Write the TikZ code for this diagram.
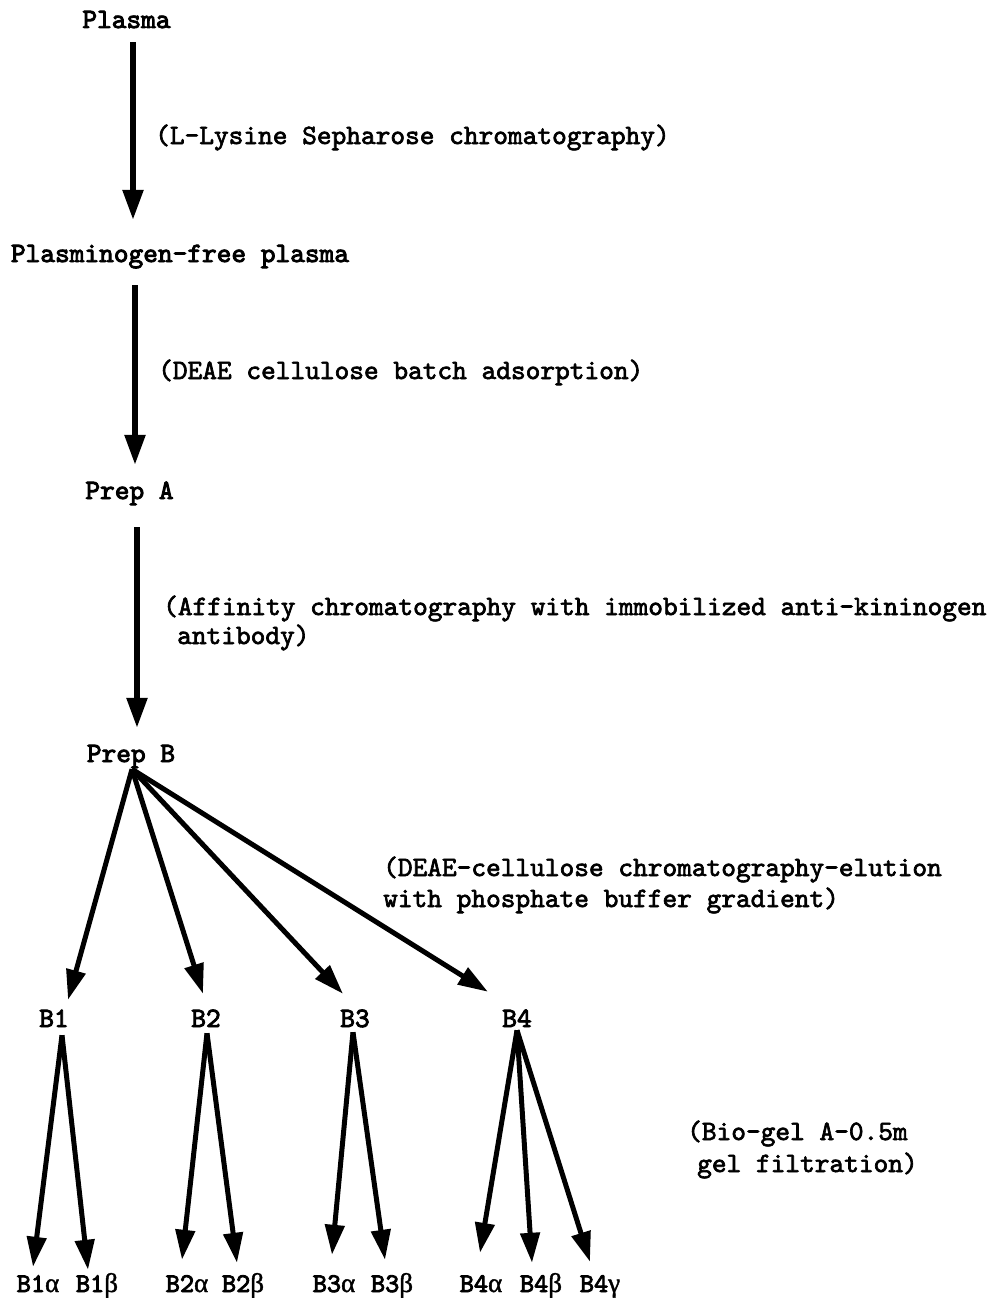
\documentclass[tikz,border=0pt]{standalone}
\usepackage{fontspec}
\newfontfamily\tw{lmmono10-regular.otf}[FakeBold=2.4]
\newfontfamily\twb{lmmono10-regular.otf}[FakeBold=3.2]
\newfontfamily\gk{Liberation Serif}[FakeBold=1.5]
\usetikzlibrary{arrows.meta}
\begin{document}
\begin{tikzpicture}[x=1pt,y=-1pt,
  lbl/.style={font=\twb\fontsize{28}{31}\selectfont, inner sep=0pt, text height=17pt, text depth=5pt, anchor=base},
  ann/.style={font=\tw\fontsize{28}{31}\selectfont, inner sep=0pt, text height=17pt, text depth=5pt, anchor=base west},
  sub/.style={font=\twb\fontsize{27}{30}\selectfont, inner sep=0pt, text height=17pt, text depth=5pt, anchor=base},
  arr/.style={line width=5.5pt, -{Triangle[length=30pt,width=20pt]}},
  farr/.style={line width=5pt, -{Triangle[length=30pt,width=19pt]}}
]
\fill[white] (0,0) rectangle (998,1298);
\useasboundingbox (0,0) rectangle (998,1298);

% main chain
\node[lbl] (plasma) at (126.5,28) {Plasma};
\node[lbl] (pfp) at (180,262) {Plasminogen-free plasma};
\node[lbl] (prepA) at (129.5,499) {Prep A};
\node[lbl] (prepB) at (131,762) {Prep B};

% annotations
\node[ann] (t1) at (155,144) {(L-Lysine Sepharose chromatography)};
\node[ann] (t2) at (158,379) {(DEAE cellulose batch adsorption)};
\node[ann] (t3a) at (163,615) {(Affinity chromatography with immobilized anti-kininogen};
\node[ann] (t3b) at (177,644) {antibody)};
\node[ann] (t4a) at (383,876) {(DEAE-cellulose chromatography-elution};
\node[ann] (t4b) at (383,907) {with phosphate buffer gradient)};
\node[ann] (t5a) at (687,1140) {(Bio-gel A-0.5m};
\node[ann] (t5b) at (697,1172) {gel filtration)};

% fractions
\node[lbl] (B1) at (54,1027) {B1};
\node[lbl] (B2) at (206,1027) {B2};
\node[lbl] (B3) at (355,1027) {B3};
\node[lbl] (B4) at (517,1027) {B4};

% subfractions
\node[sub] (B1a) at (38,1292) {B1{\gk α}};
\node[sub] (B1b) at (97,1292) {B1{\gk β}};
\node[sub] (B2a) at (187,1292) {B2{\gk α}};
\node[sub] (B2b) at (243,1292) {B2{\gk β}};
\node[sub] (B3a) at (334,1292) {B3{\gk α}};
\node[sub] (B3b) at (392,1292) {B3{\gk β}};
\node[sub] (B4a) at (481,1292) {B4{\gk α}};
\node[sub] (B4b) at (541,1292) {B4{\gk β}};
\node[sub] (B4c) at (600,1292) {B4{\gk γ}};

% vertical arrows
\draw[arr] ([xshift=6.5pt,yshift=-9pt]plasma.south) -- ([xshift=-47pt,yshift=25pt]pfp.north);
\draw[arr] ([xshift=-45pt,yshift=-18pt]pfp.south) -- ([xshift=5.5pt,yshift=17pt]prepA.north);
\draw[arr] ([xshift=7.5pt,yshift=-23pt]prepA.south) -- ([xshift=6pt,yshift=17pt]prepB.north);

% fan to fractions
\draw[farr] ([xshift=1pt,yshift=-2pt]prepB.south) -- ([xshift=14pt,yshift=10pt]B1.north);
\draw[farr] ([xshift=1pt,yshift=-2pt]prepB.south) -- ([xshift=-3pt,yshift=16pt]B2.north);
\draw[farr] ([xshift=1pt,yshift=-2pt]prepB.south) -- ([xshift=-12pt,yshift=16pt]B3.north);
\draw[farr] ([xshift=1pt,yshift=-2pt]prepB.south) -- ([xshift=-29pt,yshift=18pt]B4.north);

% gel filtration arrows
\draw[farr] ([xshift=8pt,yshift=-3pt]B1.south) -- ([xshift=-5pt,yshift=8pt]B1a.north);
\draw[farr] ([xshift=8pt,yshift=-3pt]B1.south) -- ([xshift=-9pt,yshift=5pt]B1b.north);
\draw[farr] ([xshift=1pt,yshift=-1pt]B2.south) -- ([xshift=-5pt,yshift=15pt]B2a.north);
\draw[farr] ([xshift=1pt,yshift=-1pt]B2.south) -- ([xshift=-6pt,yshift=12pt]B2b.north);
\draw[farr] ([xshift=-2pt,yshift=0pt]B3.south) -- ([xshift=-2pt,yshift=20pt]B3a.north);
\draw[farr] ([xshift=-2pt,yshift=0pt]B3.south) -- ([xshift=-7pt,yshift=15pt]B3b.north);
\draw[farr] ([xshift=0pt,yshift=2pt]B4.south) -- ([xshift=-1pt,yshift=22pt]B4a.north);
\draw[farr] ([xshift=0pt,yshift=2pt]B4.south) -- ([xshift=-9pt,yshift=12pt]B4b.north);
\draw[farr] ([xshift=0pt,yshift=2pt]B4.south) -- ([xshift=-10pt,yshift=13pt]B4c.north);
\end{tikzpicture}
\end{document}
